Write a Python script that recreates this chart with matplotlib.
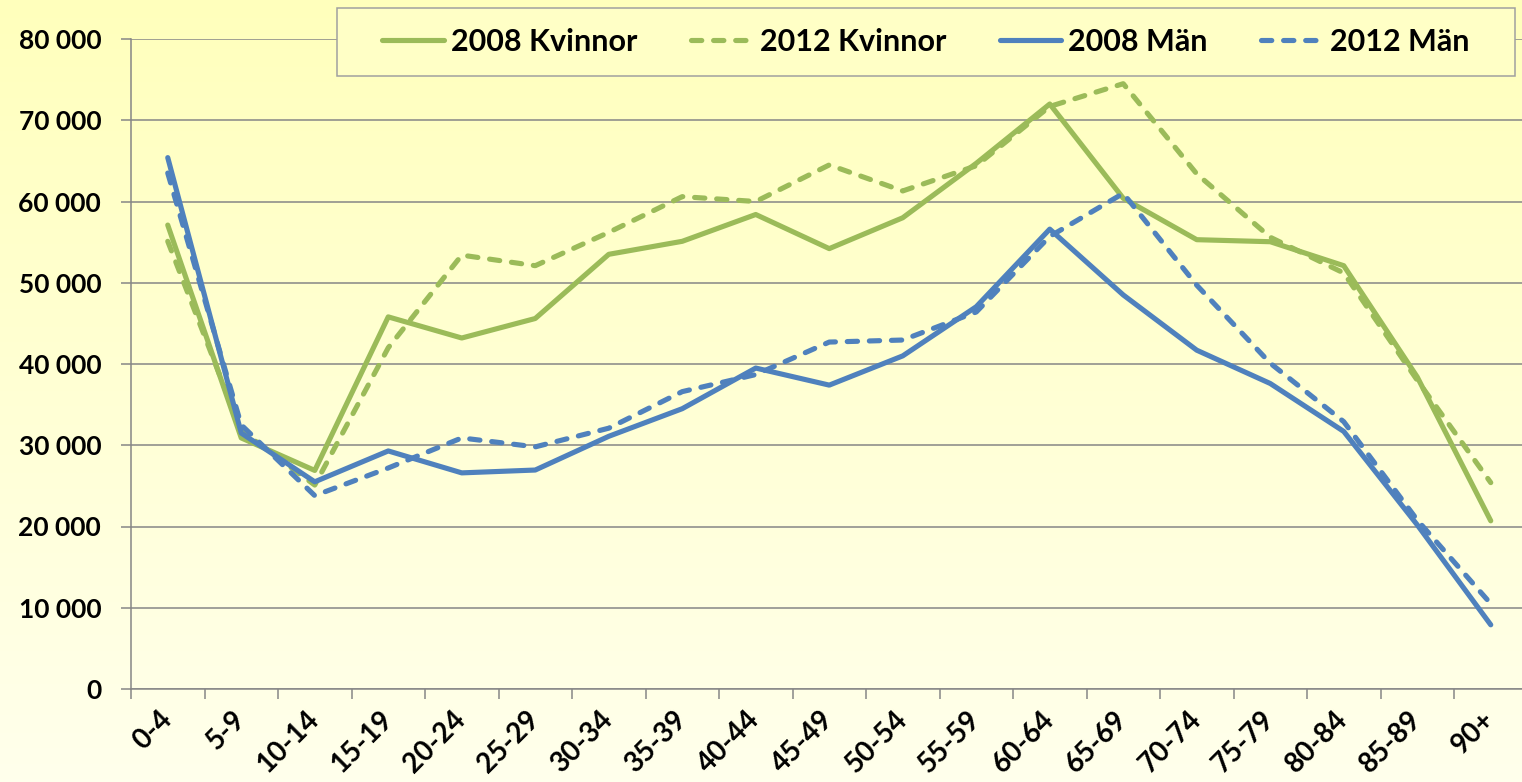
import numpy as np
from matplotlib import pyplot as plt
from matplotlib.patches import Rectangle
from matplotlib.ticker import FuncFormatter

age_groups = ['0-4', '5-9', '10-14', '15-19', '20-24', '25-29', '30-34', '35-39', '40-44', '45-49',
              '50-54', '55-59', '60-64', '65-69', '70-74', '75-79', '80-84', '85-89', '90+']
kvinnor_2008 = [57100, 30900, 26900, 45800, 43200, 45600, 53500, 55100, 58400, 54200,
                58000, 64700, 72000, 60400, 55300, 55050, 52100, 38400, 20700]
kvinnor_2012 = [55100, 31800, 25100, 42000, 53400, 52100, 56200, 60600, 60000, 64500,
                61300, 64400, 71700, 74500, 63400, 55600, 51200, 38000, 25400]
man_2008 = [65400, 31500, 25500, 29300, 26600, 26950, 31100, 34500, 39500, 37400,
            41000, 47050, 56600, 48500, 41700, 37600, 31700, 20200, 7900]
man_2012 = [63500, 32500, 23800, 27200, 30900, 29800, 32100, 36600, 38700, 42700,
            42950, 46400, 55700, 61000, 49700, 40100, 32900, 20800, 10500]
y_ticks = [0, 10000, 20000, 30000, 40000, 50000, 60000, 70000, 80000]

green = '#9BBB59'
blue = '#4F81BD'
grey = '#868686'

plt.rcParams['font.family'] = ['Lato', 'DejaVu Sans']
plt.rcParams['font.weight'] = 'bold'

W, H = 1522, 782
fig = plt.figure(figsize=(W / 100, H / 100), dpi=100)

# yellow gradient background
bg = fig.add_axes([0, 0, 1, 1], zorder=-1)
t = np.linspace(0, 1, 256)[:, None]
top = np.array([255, 255, 188]) / 255
bottom = np.array([255, 255, 236]) / 255
grad = top[None, None, :] * (1 - t[:, :, None]) + bottom[None, None, :] * t[:, :, None]
bg.imshow(grad, aspect='auto', extent=[0, 1, 0, 1])
bg.axis('off')

# plot area in pixels
left, right, ytop, ybot = 131, 131 + 19 * 73.5, 39, 689
ax = fig.add_axes([left / W, (H - ybot) / H, (right - left) / W, (ybot - ytop) / H])
ax.set_facecolor('none')

x = np.arange(len(age_groups))
lw = 3.7
dash = (0, (2.0, 2.3))
ax.plot(x, kvinnor_2008, color=green, lw=lw, label='2008 Kvinnor', solid_capstyle='round', zorder=3)
ax.plot(x, kvinnor_2012, color=green, lw=lw, ls=dash, dash_capstyle='round', label='2012 Kvinnor', zorder=3)
ax.plot(x, man_2008, color=blue, lw=lw, label='2008 Män', solid_capstyle='round', zorder=3)
ax.plot(x, man_2012, color=blue, lw=lw, ls=dash, dash_capstyle='round', label='2012 Män', zorder=3)

ax.set_xlim(-0.5, len(age_groups) - 0.5)
ax.set_ylim(0, 80000)
ax.set_yticks(y_ticks)
ax.yaxis.set_major_formatter(FuncFormatter(lambda v, p: f'{int(v):,}'.replace(',', ' ')))
ax.grid(axis='y', color=grey, lw=1.1)
ax.set_axisbelow(True)

ax.set_xticks(x)
ax.set_xticklabels(age_groups, rotation=45, ha='right', va='center', rotation_mode='anchor')
ax.set_xticks(np.arange(len(age_groups) + 1) - 0.5, minor=True)
ax.tick_params(axis='x', which='major', length=0, pad=19, labelsize=20)
ax.tick_params(axis='x', which='minor', length=7.5, width=1.1, color=grey)
ax.tick_params(axis='y', length=7.5, width=1.1, color=grey, pad=14, labelsize=19)

for s in ['top', 'right']:
    ax.spines[s].set_visible(False)
for s in ['left', 'bottom']:
    ax.spines[s].set_color(grey)
    ax.spines[s].set_linewidth(1.1)

# legend box drawn separately so it matches the original frame
box = Rectangle((337 / W, 1 - 76 / H), (1515 - 337) / W, (76 - 8) / H, transform=fig.transFigure,
                facecolor='#FFFFC6', edgecolor='#A0A0A0', lw=1.1, zorder=4)
fig.add_artist(box)
leg = fig.legend(loc='center', bbox_to_anchor=((337 + 1515) / 2 / W, 1 - 42 / H), ncol=4, fontsize=22,
                 handlelength=2.0, handletextpad=0.25, columnspacing=1.75, frameon=False)
leg.set_zorder(5)

fig.savefig('out.png', dpi=100)
